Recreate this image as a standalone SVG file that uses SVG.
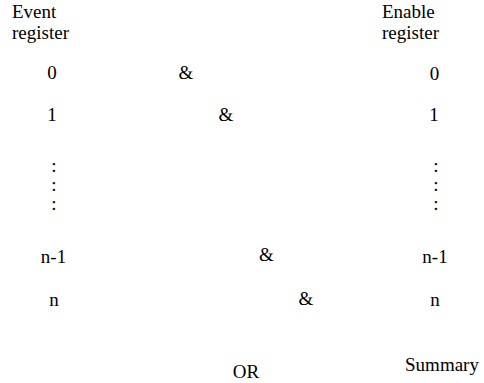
<svg xmlns="http://www.w3.org/2000/svg" width="484" height="383" viewBox="0 0 484 383">
<style>
text{font-family:"Liberation Serif","Times New Roman",serif;font-size:19px;fill:#000}
.c{text-anchor:middle}
</style>
<rect width="484" height="383" fill="#fff"/>
<g id="event-register"><text x="12" y="18">Event</text><text x="12" y="39">register</text></g>
<g id="enable-register"><text x="382" y="18">Enable</text><text x="382" y="39">register</text></g>
<g id="e0"><text class="c" x="52" y="79">0</text></g>
<g id="e1"><text class="c" x="52" y="121">1</text></g>
<g id="edots"><text class="c" x="54" y="172">:</text><text class="c" x="54" y="191">:</text><text class="c" x="54" y="210">:</text></g>
<g id="en1"><text class="c" x="53.5" y="263">n-1</text></g>
<g id="en"><text class="c" x="54" y="306">n</text></g>
<g id="and0"><text class="c" x="186" y="79">&amp;</text></g>
<g id="and1"><text class="c" x="226" y="121">&amp;</text></g>
<g id="andn1"><text class="c" x="266.5" y="261">&amp;</text></g>
<g id="andn"><text class="c" x="306" y="305">&amp;</text></g>
<g id="m0"><text class="c" x="434.5" y="80">0</text></g>
<g id="m1"><text class="c" x="434" y="121">1</text></g>
<g id="mdots"><text class="c" x="436" y="172">:</text><text class="c" x="436" y="191">:</text><text class="c" x="436" y="210">:</text></g>
<g id="mn1"><text class="c" x="435" y="263">n-1</text></g>
<g id="mn"><text class="c" x="435" y="306">n</text></g>
<g id="or"><text class="c" x="246" y="378">OR</text></g>
<g id="summary"><text class="c" x="442" y="371">Summary</text></g>
<g id="connectors"></g>
</svg>
